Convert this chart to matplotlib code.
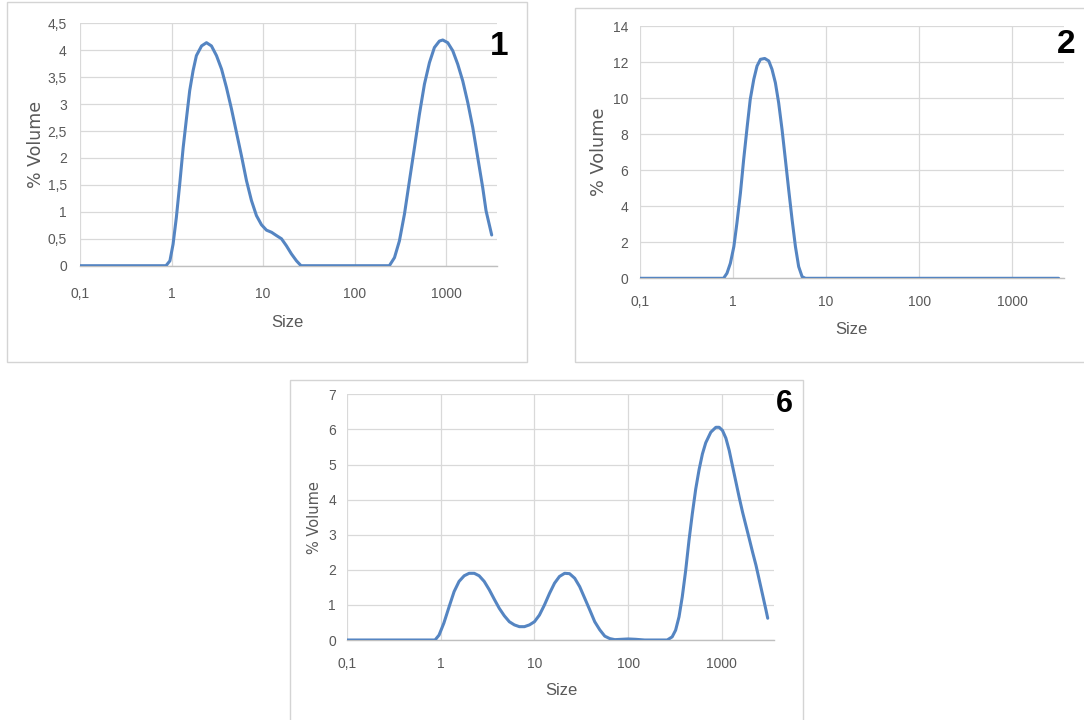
import matplotlib.pyplot as plt
from matplotlib.patches import Rectangle
from matplotlib.ticker import FuncFormatter

plt.rcParams['font.family'] = ['Liberation Sans Narrow', 'Liberation Sans', 'DejaVu Sans']

# sample 1: two populations (fine + coarse)
size1 = [0.1, 0.87, 0.96, 1.04, 1.13, 1.23, 1.34, 1.46, 1.58, 1.72,
         1.87, 2.13, 2.41, 2.73, 3.10, 3.52, 3.98, 4.52, 5.13, 5.81,
         6.59, 7.47, 8.47, 9.61, 10.9, 12.4, 14.0, 15.9, 18.0, 20.4,
         23.2, 26.0, 240, 273, 309, 351, 398, 451, 511, 580,
         658, 745, 845, 920, 1043, 1183, 1341, 1521, 1725, 1955,
         2217, 2513, 2733, 3150]
vol1 = [0, 0, 0.09, 0.40, 0.90, 1.52, 2.19, 2.75, 3.25, 3.62,
        3.90, 4.08, 4.14, 4.08, 3.90, 3.65, 3.31, 2.91, 2.47, 2.04,
        1.58, 1.21, 0.93, 0.76, 0.66, 0.62, 0.56, 0.50, 0.37, 0.22,
        0.09, 0, 0, 0.15, 0.46, 0.96, 1.58, 2.19, 2.81, 3.37,
        3.77, 4.05, 4.17, 4.19, 4.14, 3.99, 3.74, 3.43, 3.03, 2.57,
        2.01, 1.45, 1.02, 0.57]

# sample 2: single narrow peak
size2 = [0.1, 0.79, 0.86, 0.935, 1.02, 1.10, 1.20, 1.30, 1.42, 1.53,
         1.67, 1.81, 1.97, 2.19, 2.42, 2.62, 2.85, 3.09, 3.36, 3.65,
         3.96, 4.31, 4.68, 5.07, 5.52, 5.99, 3150]
vol2 = [0, 0, 0.28, 0.83, 1.76, 3.06, 4.73, 6.59, 8.44, 9.93,
        11.04, 11.78, 12.15, 12.2, 12.06, 11.6, 10.85, 9.74, 8.26, 6.59,
        4.92, 3.25, 1.76, 0.65, 0.09, 0, 0]

# sample 6: three populations
size3 = [0.1, 0.87, 0.96, 1.08, 1.23, 1.39, 1.57, 1.78, 2.01, 2.28,
         2.57, 2.91, 3.30, 3.73, 4.22, 4.77, 5.40, 6.11, 6.91, 7.82,
         8.84, 10.0, 11.3, 12.8, 14.5, 16.4, 18.5, 21.0, 23.7, 26.9,
         30.4, 34.4, 38.9, 44.0, 49.8, 56.3, 63.7, 72.1, 85, 100,
         120, 150, 261, 295, 321, 349, 378, 411, 446, 484,
         526, 571, 620, 673, 762, 863, 936, 1015, 1104, 1198,
         1300, 1413, 1532, 1663, 1806, 1962, 2128, 2312, 2512, 2724,
         2958, 3085]
vol3 = [0, 0, 0.14, 0.48, 0.95, 1.38, 1.67, 1.83, 1.90, 1.90,
        1.83, 1.67, 1.43, 1.16, 0.90, 0.69, 0.52, 0.43, 0.38, 0.38,
        0.43, 0.52, 0.71, 1.0, 1.33, 1.62, 1.81, 1.90, 1.89, 1.76,
        1.52, 1.19, 0.86, 0.52, 0.29, 0.11, 0.04, 0.01, 0.02, 0.03,
        0.02, 0, 0, 0.09, 0.28, 0.66, 1.23, 1.98, 2.84, 3.60,
        4.30, 4.85, 5.30, 5.62, 5.92, 6.06, 6.06, 5.97, 5.75, 5.40,
        4.95, 4.50, 4.06, 3.64, 3.26, 2.88, 2.50, 2.13, 1.70, 1.28,
        0.85, 0.62]

xticks = [0.1, 1, 10, 100, 1000]
xtick_labels = ['0,1', '1', '10', '100', '1000']

W, H = 1084, 720
LINE = '#5585c2'
GREY = '#595959'
GRID = '#d9d9d9'

fig = plt.figure(figsize=(W / 100, H / 100), dpi=100)


def px_rect(x0, y0, x1, y1):
    # pixel box (top-left origin) -> figure fraction [left, bottom, w, h]
    return [x0 / W, 1 - y1 / H, (x1 - x0) / W, (y1 - y0) / H]


def panel(box, plot, size, vol, ymax, ystep, tag, tag_xy, tag_fs,
          xpad, ypad, xlab_xy, ylab_xy, ylab_fs):
    r = px_rect(*box)
    fig.add_artist(Rectangle(r[:2], r[2], r[3], transform=fig.transFigure,
                             fill=False, edgecolor='#d4d4d4', lw=1.0))
    ax = fig.add_axes(px_rect(*plot))
    ax.plot(size, vol, color=LINE, lw=2.2, solid_capstyle='round',
            solid_joinstyle='round', zorder=3)
    ax.set_xscale('log')
    ax.set_xlim(0.1, 3600)
    ax.set_ylim(0, ymax)
    ax.set_xticks(xticks)
    ax.set_xticklabels(xtick_labels)
    ax.minorticks_off()
    yt = [i * ystep for i in range(int(round(ymax / ystep)) + 1)]
    ax.set_yticks(yt)
    ax.yaxis.set_major_formatter(FuncFormatter(lambda v, p: f'{v:g}'.replace('.', ',')))
    ax.grid(True, color=GRID, lw=0.9)
    ax.set_axisbelow(True)
    for s in ['top', 'right', 'left']:
        ax.spines[s].set_visible(False)
    ax.spines['bottom'].set_color('#bfbfbf')
    ax.spines['bottom'].set_linewidth(1.0)
    ax.tick_params(axis='x', length=0, pad=xpad, labelsize=10, labelcolor=GREY)
    ax.tick_params(axis='y', length=0, pad=ypad, labelsize=10, labelcolor=GREY)
    ax.set_xlabel('Size', fontsize=12, color=GREY)
    ax.xaxis.set_label_coords(*xlab_xy)
    ax.set_ylabel('% Volume', fontsize=ylab_fs, color=GREY, family='DejaVu Sans')
    ax.yaxis.set_label_coords(*ylab_xy)
    fig.text(tag_xy[0] / W, 1 - tag_xy[1] / H, tag, fontsize=tag_fs,
             fontweight='bold', ha='center', va='baseline', color='black')
    return ax


panel((7, 2, 527, 362), (80, 23.3, 497, 265.7), size1, vol1, 4.5, 0.5,
      '1', (499, 55), 24, 15, 9.5, (0.498, -0.203), (-0.084, 0.502), 12.5)
panel((575, 8, 1100, 362), (640, 26, 1064, 278.3), size2, vol2, 14, 2,
      '2', (1066, 53), 24, 12, 8.6, (0.499, -0.172), (-0.075, 0.502), 12.8)
panel((290, 380, 803, 726), (347, 394.3, 774, 640), size3, vol3, 7, 1,
      '6', (784, 412), 22, 12, 8, (0.501, -0.176), (-0.058, 0.5), 10.5)

fig.savefig('out.png', dpi=100)
